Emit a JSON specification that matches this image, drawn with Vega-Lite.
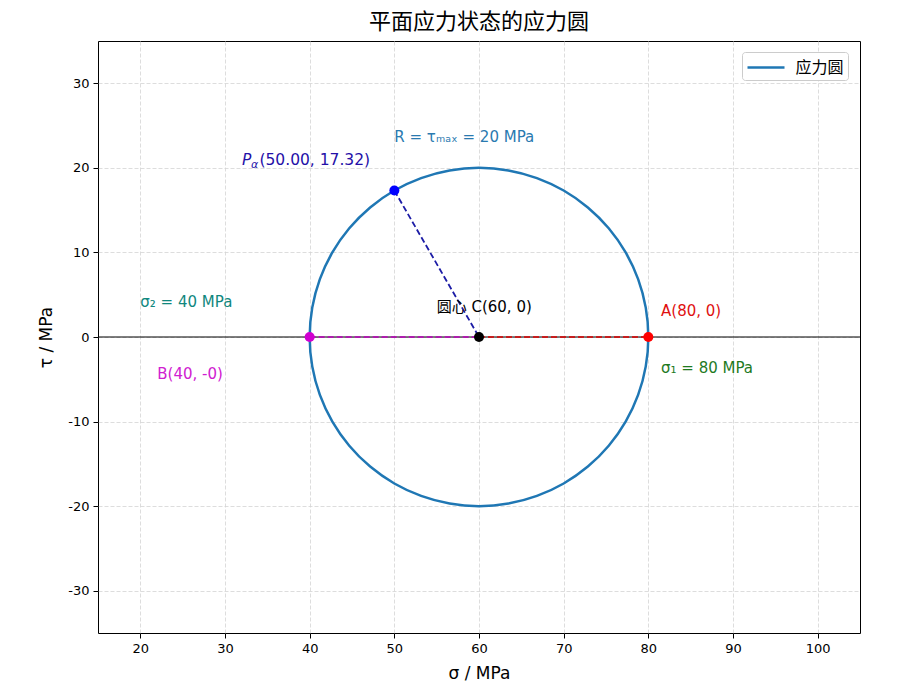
{
  "$schema": "https://vega.github.io/schema/vega-lite/v6.json",
  "width": 762,
  "height": 592,
  "autosize": "none",
  "padding": {"left": 98, "top": 41, "right": 40, "bottom": 67},
  "title": {
    "text": "平面应力状态的应力圆",
    "font": "Noto Sans CJK SC",
    "fontSize": 22,
    "fontWeight": "normal",
    "color": "black",
    "offset": 7
  },
  "config": {
    "view": {"stroke": "black", "strokeWidth": 1},
    "axis": {
      "domain": false,
      "grid": true,
      "gridColor": "#d4d4d4",
      "gridDash": [4, 2],
      "gridWidth": 0.8,
      "tickColor": "black",
      "tickSize": 5,
      "labelPadding": 4,
      "labelColor": "black",
      "labelFont": "DejaVu Sans",
      "labelFontSize": 13,
      "titleFont": "DejaVu Sans",
      "titleFontSize": 17,
      "titleFontWeight": "normal",
      "titleColor": "black"
    },
    "legend": {
      "labelFont": "Noto Sans CJK SC",
      "labelFontSize": 16,
      "labelColor": "black"
    }
  },
  "datasets": {
    "circle": [
      {"i": 0, "sigma": 80.0, "tau": 0.0},
      {"i": 1, "sigma": 79.696, "tau": 3.473},
      {"i": 2, "sigma": 78.794, "tau": 6.84},
      {"i": 3, "sigma": 77.321, "tau": 10.0},
      {"i": 4, "sigma": 75.321, "tau": 12.856},
      {"i": 5, "sigma": 72.856, "tau": 15.321},
      {"i": 6, "sigma": 70.0, "tau": 17.321},
      {"i": 7, "sigma": 66.84, "tau": 18.794},
      {"i": 8, "sigma": 63.473, "tau": 19.696},
      {"i": 9, "sigma": 60.0, "tau": 20.0},
      {"i": 10, "sigma": 56.527, "tau": 19.696},
      {"i": 11, "sigma": 53.16, "tau": 18.794},
      {"i": 12, "sigma": 50.0, "tau": 17.321},
      {"i": 13, "sigma": 47.144, "tau": 15.321},
      {"i": 14, "sigma": 44.679, "tau": 12.856},
      {"i": 15, "sigma": 42.679, "tau": 10.0},
      {"i": 16, "sigma": 41.206, "tau": 6.84},
      {"i": 17, "sigma": 40.304, "tau": 3.473},
      {"i": 18, "sigma": 40.0, "tau": 0.0},
      {"i": 19, "sigma": 40.304, "tau": -3.473},
      {"i": 20, "sigma": 41.206, "tau": -6.84},
      {"i": 21, "sigma": 42.679, "tau": -10.0},
      {"i": 22, "sigma": 44.679, "tau": -12.856},
      {"i": 23, "sigma": 47.144, "tau": -15.321},
      {"i": 24, "sigma": 50.0, "tau": -17.321},
      {"i": 25, "sigma": 53.16, "tau": -18.794},
      {"i": 26, "sigma": 56.527, "tau": -19.696},
      {"i": 27, "sigma": 60.0, "tau": -20.0},
      {"i": 28, "sigma": 63.473, "tau": -19.696},
      {"i": 29, "sigma": 66.84, "tau": -18.794},
      {"i": 30, "sigma": 70.0, "tau": -17.321},
      {"i": 31, "sigma": 72.856, "tau": -15.321},
      {"i": 32, "sigma": 75.321, "tau": -12.856},
      {"i": 33, "sigma": 77.321, "tau": -10.0},
      {"i": 34, "sigma": 78.794, "tau": -6.84},
      {"i": 35, "sigma": 79.696, "tau": -3.473}
    ],
    "zeroline": [
      {"sigma": 15, "tau": 0},
      {"sigma": 105, "tau": 0}
    ],
    "segB": [
      {"sigma": 40, "tau": 0},
      {"sigma": 60, "tau": 0}
    ],
    "segA": [
      {"sigma": 60, "tau": 0},
      {"sigma": 80, "tau": 0}
    ],
    "segP": [
      {"sigma": 60, "tau": 0},
      {"sigma": 50, "tau": 17.32}
    ],
    "points": [
      {"name": "P", "sigma": 50, "tau": 17.32},
      {"name": "B", "sigma": 40, "tau": 0},
      {"name": "A", "sigma": 80, "tau": 0},
      {"name": "C", "sigma": 60, "tau": 0}
    ],
    "labels": [
      {"key": "R", "label": "R = τₘₐₓ = 20 MPa", "sigma": 50, "tau": 23},
      {"key": "s2", "label": "σ₂ = 40 MPa", "sigma": 20, "tau": 3.5},
      {"key": "B", "label": "B(40, -0)", "sigma": 22, "tau": -5},
      {"key": "C", "label": "圆心 C(60, 0)", "sigma": 55, "tau": 3},
      {"key": "A", "label": "A(80, 0)", "sigma": 81.5, "tau": 2.5},
      {"key": "s1", "label": "σ₁ = 80 MPa", "sigma": 81.5, "tau": -4.3}
    ],
    "plabel": [
      {"sigma": 32, "tau": 20.32}
    ]
  },
  "encoding": {
    "x": {
      "field": "sigma",
      "type": "quantitative",
      "scale": {"domain": [15, 105], "nice": false, "zero": false},
      "axis": {"title": "σ / MPa", "values": [20, 30, 40, 50, 60, 70, 80, 90, 100], "titlePadding": 10}
    },
    "y": {
      "field": "tau",
      "type": "quantitative",
      "scale": {"domain": [-35, 35], "nice": false, "zero": false},
      "axis": {
        "title": "τ / MPa",
        "values": [-30, -20, -10, 0, 10, 20, 30],
        "labelExpr": "replace(datum.label, '−', '-')",
        "titlePadding": 12
      }
    }
  },
  "layer": [
    {
      "data": {"name": "zeroline"},
      "mark": {"type": "line", "color": "black", "strokeWidth": 1.2}
    },
    {
      "data": {"name": "circle"},
      "mark": {"type": "line", "strokeWidth": 2.5, "interpolate": "cardinal-closed"},
      "encoding": {
        "order": {"field": "i", "type": "quantitative"},
        "color": {
          "datum": "应力圆",
          "type": "nominal",
          "scale": {"range": ["#1f77b4"]},
          "legend": {
            "title": null,
            "orient": "none",
            "legendX": 644,
            "legendY": 11,
            "symbolType": "M-1.85,0H1.85",
            "symbolSize": 400,
            "symbolStrokeWidth": 2.5,
            "symbolOffset": 8.5,
            "labelOffset": 18,
            "padding": 4,
            "strokeColor": "#cccccc",
            "fillColor": "white",
            "cornerRadius": 3
          }
        }
      }
    },
    {
      "data": {"name": "segB"},
      "mark": {"type": "line", "color": "#c000c0", "strokeWidth": 1.5, "strokeDash": [6, 3]}
    },
    {
      "data": {"name": "segA"},
      "mark": {"type": "line", "color": "#e00000", "strokeWidth": 1.5, "strokeDash": [6, 3]}
    },
    {
      "data": {"name": "segP"},
      "mark": {"type": "line", "color": "#1c1ca6", "strokeWidth": 1.8, "strokeDash": [6, 3]}
    },
    {
      "data": {"name": "points"},
      "mark": {"type": "circle", "size": 100, "opacity": 1},
      "encoding": {
        "color": {
          "field": "name",
          "type": "nominal",
          "scale": {"domain": ["P", "B", "A", "C"], "range": ["#0000ff", "#d000d0", "#ff0000", "#000000"]},
          "legend": null
        }
      }
    },
    {
      "data": {"name": "labels"},
      "mark": {"type": "text", "align": "left", "baseline": "alphabetic", "fontSize": 15, "font": "'DejaVu Sans', 'Noto Sans CJK SC'"},
      "encoding": {
        "text": {"field": "label"},
        "color": {
          "field": "key",
          "type": "nominal",
          "scale": {
            "domain": ["R", "s2", "B", "C", "A", "s1"],
            "range": ["#2a7ab0", "#10877e", "#d020d0", "#000000", "#e01010", "#1f7a1f"]
          },
          "legend": null
        }
      }
    },
    {
      "data": {"name": "plabel"},
      "mark": {"type": "text", "align": "left", "baseline": "alphabetic", "fontSize": 15.5, "fontStyle": "italic", "font": "DejaVu Sans", "color": "#2410a8"},
      "encoding": {"text": {"value": "P"}}
    },
    {
      "data": {"name": "plabel"},
      "mark": {"type": "text", "align": "left", "baseline": "alphabetic", "fontSize": 11, "fontStyle": "italic", "font": "DejaVu Sans", "color": "#2410a8", "dx": 9, "dy": 3},
      "encoding": {"text": {"value": "α"}}
    },
    {
      "data": {"name": "plabel"},
      "mark": {"type": "text", "align": "left", "baseline": "alphabetic", "fontSize": 15.5, "font": "DejaVu Sans", "color": "#2410a8", "dx": 17.5},
      "encoding": {"text": {"value": "(50.00, 17.32)"}}
    }
  ],
  "resolve": {"scale": {"color": "independent"}}
}
